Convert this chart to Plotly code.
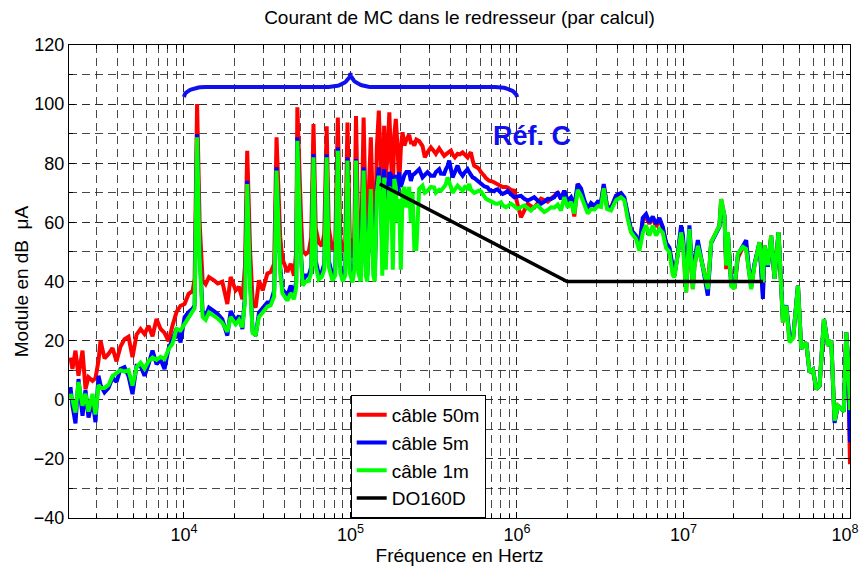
import numpy as np
import plotly.graph_objects as go

# ---------------- data ----------------
# low-frequency part
freq_a = [2084, 2142, 2233, 2328, 2461, 2565, 2674, 2826, 2945, 3070, 3157, 3337, 3526, 3727,
          3939, 4163, 4399, 4650, 4914, 5194, 5489, 5801, 6131, 6480, 6848, 7238, 7649, 8084,
          8544, 9035, 9548, 10090, 10670, 11270]
red_a = [14.3, 10.4, 16.6, 8.1, 16.6, 3.6, 7.6, 6.4, 7.3, 13.2, 20, 14, 15.5, 17.5,
         13, 18, 20.5, 21.3, 14.4, 22, 23.9, 22.2, 25, 21.5, 27.3, 24, 22.6, 19.8,
         25.1, 29.7, 31.8, 32.4, 35.8, 36.7]
blue_a = [4.3, -2, -8, 7, -5.4, 3.3, -6, 0, -7.6, 8.1, 5, 2.5, 4, 7.5,
          6, 10.4, 11, 8, 1.9, 11.5, 11.5, 8.1, 12, 16.6, 12, 13.6, 10.4, 17.2,
          20.5, 24, 19.4, 27.9, 29.6, 30.8]
green_a = [2, 0, -4.3, 6, -2, 2, -4, 2, -5, 5, 4, 4, 5, 8,
           9, 10, 9.5, 10, 4.8, 11, 12.5, 10.5, 13, 14.3, 13.5, 14.5, 13.8, 17,
           19, 24, 23.5, 25.5, 27.8, 30]

# harmonic part
freq_b = [11600, 12000, 12430, 12950, 13510, 14140, 15150, 15950, 17010, 18230,
          19090, 20460, 21410, 22440, 23260, 24000, 25000, 25880, 26980, 28240,
          29730, 31720, 33210, 34850, 36000, 37870, 39040, 41830, 43790, 45840,
          47260, 48000, 50650, 51700, 53890, 56180, 58170, 60000, 61900, 64520,
          67270, 69620, 72000, 74120, 78020, 81070, 84000, 86890, 89950, 93110,
          96000, 99100, 102900, 105500, 108000, 111500, 115400, 120000]
red_b = [41, 100, 60, 40.5, 39.1, 41.5, 40.4, 39.3, 39.9, 32.4,
         41.5, 37, 38.2, 34, 45, 84.2, 50, 33, 31.2, 40.4,
         37, 42.7, 43.2, 46, 88.8, 55, 47.6, 43.2, 46, 42,
         50, 98.9, 60, 50.4, 49.3, 50, 55, 93.3, 58, 53.2,
         52, 56, 92.5, 58, 50.6, 53, 95.5, 55, 50, 52,
         93.8, 55, 48, 55, 96, 55, 44, 95.5]
blue_b = [32, 89.9, 50, 30, 28.4, 31.2, 30, 29, 27.2, 21.7,
          30, 26.7, 28.4, 23.9, 35, 74.1, 40, 23, 21.7, 29.5,
          31, 32.9, 33, 37, 78.6, 45, 37.4, 35.2, 38.6, 36,
          40, 88.8, 48, 40, 42, 42, 45, 83.1, 47, 42.5,
          43, 46, 83, 47, 42, 44, 85.4, 45, 42, 44,
          82, 46, 42, 46, 81.4, 45, 42, 78.6]
green_b = [31, 88.8, 48, 28, 27, 29.5, 28.5, 27.5, 26, 23,
           28, 25.5, 27, 24.5, 33, 73, 38, 22.5, 22, 28,
           29.5, 31.5, 32, 35, 77.5, 43, 36, 33.5, 36, 34,
           38, 87.6, 46, 38.6, 40, 40.2, 43, 82, 45, 40.7,
           41.5, 44, 82, 45, 40.3, 42, 84.2, 43, 40, 42,
           80.9, 43, 39.7, 44, 80.9, 43, 40, 77.5]

# high-frequency part
freq_c = [123700, 126300, 128900, 132600, 137200, 140100, 144000, 148100, 152200, 155400,
          159400, 163100, 167000, 171200, 176000, 179700, 183400, 187300, 192000, 196100,
          200800, 205600, 210800, 216700, 225200, 230600, 236100, 242000, 248900, 258700,
          271000, 279900, 290500, 304100, 318400, 325900, 341200, 349300, 365600, 374400,
          383100, 391700, 401200, 410600, 423900, 440000, 454300, 471600, 486800, 505300,
          516700, 529000, 541500, 553600, 580300, 593300, 607400, 621800, 635700, 650800,
          666400, 681300, 714100, 730200, 747500, 765600, 801500, 820500, 859000, 879400,
          920500, 963400, 1009700, 1057000, 1106400, 1159600, 1213600, 1270600, 1331700, 1394400,
          1459400, 1529600, 1601300, 1675700, 1756300, 1838600, 1924500, 2017400, 2111400, 2210100,
          2316600, 2424700, 2538700, 2661000, 2785400, 2915400, 3055800, 3198400, 3320500, 3475400,
          3672800, 3935700, 4218500, 4415800, 4628300, 4844600, 5191100, 5434400, 5695500, 5961400,
          6240300, 6540400, 6846800, 7167200, 7511800, 7862300, 8230900, 8626800, 8820000, 9245700,
          9678400, 9908100, 10371000, 10857000, 11381000, 11636000, 12196000, 12765000, 13363000, 14006000,
          14660000, 15709000, 16443000, 16834000, 17624000, 18042000, 18470000, 19332000, 20238000, 21207000,
          22735000, 23796000, 24634000, 25502000, 26693000, 28612000, 29987000, 30658000, 32134000, 33635000,
          35206000, 37213000, 39552000, 41403000, 43330000, 45607000, 48689000, 50960000, 54605000, 57148000,
          59918000, 62714000, 65650000, 69770000, 73750000, 77190000, 80790000, 84690000, 88640000, 91770000,
          94990000, 97250000, 100000000]
red_c = [60, 45, 70, 88.8, 60, 45, 85, 97.8, 80, 60,
         92.7, 75, 82.5, 97.2, 79, 70, 89.5, 95, 85, 72.4,
         85, 90.5, 86, 88, 89.6, 87, 87, 86, 88, 87.5,
         85.8, 82, 83.7, 85.4, 84, 83.2, 85, 84.3, 82.5, 83,
         83.5, 84, 84.3, 83, 82, 83.2, 83, 83.7, 83, 82,
         83, 83.7, 81, 79.2, 78.5, 78, 77, 76.5, 75.8, 75,
         74.5, 74.1, 73.8, 73.5, 73, 72.7, 72.4, 72, 72, 71.8,
         71, 70.7, 66, 61.7, 64, 66.3, 65.5, 65, 66.5, 68,
         67.5, 67, 68, 69.2, 70, 68, 70.7, 66.2, 68.5, 62,
         73, 70.7, 66.8, 64.5, 66, 65.6, 66.5, 66.8, 72.4, 65.5,
         65, 69, 69.6, 67.9, 62.2, 57, 55, 51.5, 60.5, 62,
         59.5, 61.5, 58.5, 61, 58, 53, 51, 43, 42, 49,
         57, 55, 36.3, 56, 37.4, 45, 52, 47.6, 43.1, 37,
         53.3, 56.6, 58.9, 67.9, 62.3, 44.2, 56.7, 39, 37.6, 48,
         51.5, 51, 43.6, 38, 45.5, 53.3, 36, 52.2, 45.5, 55.6,
         40.9, 56.7, 26.2, 31.8, 20, 21, 38.6, 17.2, 19.4, 9.3,
         10.2, 3.6, 4.7, 27.3, 18.3, 20, -7.1, -2, -3, -4,
         22.8, 13.8, -21.8]
blue_c = [45, 42, 55, 69, 45, 42, 72, 78.6, 70, 50,
          78, 65, 61, 77, 75.8, 62, 74, 76, 70, 77,
          72, 74.7, 76, 77, 77, 74, 76, 76.4, 77, 78,
          75.2, 76, 77, 75.8, 75.8, 77, 78, 76.5, 76.4, 78,
          79, 80.9, 77, 75.2, 77, 79.2, 77, 75.8, 77, 78,
          77, 76, 75.2, 75, 74.1, 73.5, 73, 72.4, 72.2, 72,
          71.8, 71, 70.7, 70.5, 71, 71.2, 70, 69.6, 70.2, 70.7,
          69.5, 68.5, 68.8, 69, 68, 67.4, 67.9, 68.5, 67.4, 66.3,
          67, 68, 67.9, 68.5, 70.2, 67.9, 70.7, 67.3, 68.5, 65.6,
          73, 71.5, 67.5, 64.5, 66.5, 65.6, 67, 66.8, 73, 65.3,
          64.8, 69, 69.9, 68.5, 62.8, 57.5, 55.5, 51.5, 61.5, 62.8,
          60, 62, 59.5, 61.5, 58.5, 53, 51.5, 43.5, 42, 49.5,
          59, 56, 40, 59, 40, 47, 54, 48, 42, 35.2,
          53, 56.6, 58.5, 66, 62, 47, 56, 40, 38, 49,
          52, 54, 45, 39, 46, 53, 34.1, 52, 45, 55,
          41, 56.5, 27, 32, 21.7, 21.5, 38.6, 17.2, 19.4, 9.3,
          10.2, 3.6, 4.7, 27.3, 18.3, 20, -7.8, -2, -3, -4,
          22.8, 13.8, -14.4]
green_c = [42, 40, 55, 71.3, 42, 40, 70, 75.8, 66, 42,
           75.2, 44, 60, 72, 70, 44, 74.7, 72, 60, 67.9,
           44, 70, 72, 65, 72, 60, 70, 51, 51, 71.3,
           72.4, 70, 70.7, 72, 71.8, 70, 71, 70.7, 72, 73,
           75.2, 73, 72, 70, 71, 72.4, 71.5, 70.7, 72, 71.5,
           73, 71, 70.5, 70, 70.5, 70.7, 70.5, 69.5, 68.8, 68,
           67.7, 67.4, 66.8, 66.5, 66.3, 66.3, 66.8, 65.8, 65.1, 65.5,
           66.3, 65.5, 64.6, 65.2, 65.7, 64.8, 64, 65.2, 65.7, 64.5,
           63.5, 64.2, 65.1, 65, 66, 64, 68.5, 65, 67, 63,
           71, 69, 65.5, 63, 64.5, 64.3, 65.5, 65.2, 71.5, 64.5,
           64, 67.5, 68.5, 67.5, 61.1, 56.6, 54.3, 50.4, 56.4, 59,
           55.5, 58.9, 55.5, 57.7, 56.5, 51.3, 50, 42.2, 41.4, 48.7,
           56.6, 53.3, 36.3, 57.7, 37.4, 45, 52.1, 47.6, 43.1, 37.4,
           53.3, 56.6, 58.9, 67.9, 62.3, 45.4, 56.7, 38.5, 37.6, 49.4,
           51.7, 51, 43.6, 37.4, 45.4, 53.3, 39.7, 52.2, 45.5, 55.6,
           40.9, 56.7, 26.2, 31.8, 19.4, 21, 38.6, 17.2, 19.4, 9.3,
           10.2, 3.6, 4.7, 27.3, 18.3, 20, -7.1, -2, -3, -4,
           22.8, 13.8, -3.5]

# DO160D limit
do160_freq = [150e3, 2e6, 30e6]
do160_level = [73, 40, 40]

# axis ticks
y_ticks = [-40, -20, 0, 20, 40, 60, 80, 100, 120]
x_ticks = [1e4, 1e5, 1e6, 1e7, 1e8]
x_tick_text = ["10<sup>4</sup>", "10<sup>5</sup>", "10<sup>6</sup>", "10<sup>7</sup>",
               "10<sup>8</sup>&nbsp;&nbsp;"]

freq = freq_a + freq_b + freq_c
red = red_a + red_b + red_c
blue = blue_a + blue_b + blue_c
green = green_a + green_b + green_c

# ---------------- figure ----------------
FONT = "Liberation Sans, Arial, Helvetica, sans-serif"
fig = go.Figure()

fig.add_trace(go.Scatter(x=freq, y=red, mode="lines", name="câble 50m",
                         line=dict(color="#ff0000", width=4)))
fig.add_trace(go.Scatter(x=freq, y=blue, mode="lines", name="câble 5m",
                         line=dict(color="#0000ff", width=4)))
fig.add_trace(go.Scatter(x=freq, y=green, mode="lines", name="câble 1m",
                         line=dict(color="#00ff00", width=4)))
fig.add_trace(go.Scatter(x=do160_freq, y=do160_level, mode="lines", name="DO160D",
                         line=dict(color="#000000", width=3.5)))

# curly brace (decoration) spanning 1e4 .. 1e6, tip at 1e5
L, M, w = 4.0, 5.0, 0.13
y_end, y_flat, y_tip = 102.4, 105.8, 110.5
t = np.linspace(0, np.pi / 2, 20)
seg1_x = L + w - w * np.cos(t); seg1_y = y_end + (y_flat - y_end) * np.sin(t)
seg2_x = M - w + w * np.sin(t); seg2_y = y_flat + (y_tip - y_flat) * (1 - np.cos(t))
bx_left = np.concatenate([seg1_x, seg2_x])
by_left = np.concatenate([seg1_y, seg2_y])
bx = np.concatenate([bx_left, (M + (M - bx_left))[::-1]])
by = np.concatenate([by_left, by_left[::-1]])
fig.add_trace(go.Scatter(x=10 ** bx, y=by, mode="lines", showlegend=False, hoverinfo="skip",
                         line=dict(color="#1010ee", width=4)))

GRID = "rgba(40,40,40,0.85)"
fig.update_layout(
    width=864, height=576,
    margin=dict(l=69, r=14, t=45, b=58, autoexpand=False),
    paper_bgcolor="white", plot_bgcolor="white",
    font=dict(family=FONT, color="black", size=18),
    title=dict(text="Courant de MC dans le redresseur (par calcul)", x=0.5, xref="paper",
               y=1 - 17 / 576, yref="container", yanchor="middle", xanchor="center",
               font=dict(size=19, family=FONT, color="black")),
    xaxis=dict(type="log", range=[3.31, 8], tickmode="array", tickvals=x_ticks, ticktext=x_tick_text,
               minor=dict(dtick="D1", showgrid=True, gridcolor=GRID, griddash="8px,5px",
                          ticks="inside", ticklen=4, tickcolor="black"),
               showgrid=True, gridcolor=GRID, griddash="8px,5px", gridwidth=1,
               showline=True, linecolor="black", linewidth=1.2, mirror="allticks",
               ticks="inside", ticklen=6, tickcolor="black", zeroline=False, automargin=False,
               ticklabeloverflow="allow",
               tickfont=dict(size=18, family=FONT),
               title=dict(text="Fréquence en Hertz", font=dict(size=19, family=FONT), standoff=2)),
    yaxis=dict(range=[-40, 120], tickmode="array", tickvals=y_ticks,
               showgrid=True, gridcolor=GRID, griddash="8px,5px", gridwidth=1,
               minor=dict(dtick=10, tick0=0, showgrid=True, gridcolor=GRID, griddash="8px,5px",
                          ticks="inside", ticklen=4, tickcolor="black"),
               showline=True, linecolor="black", linewidth=1.2, mirror="allticks",
               ticks="inside", ticklen=6, tickcolor="black", zeroline=False, automargin=False,
               ticklabeloverflow="allow",
               tickfont=dict(size=18, family=FONT),
               title=dict(text="Module en dB  μA", font=dict(size=19, family=FONT), standoff=0)),
    legend=dict(x=0.3607, y=0, xanchor="left", yanchor="bottom", bgcolor="white",
                bordercolor="black", borderwidth=1, font=dict(size=19, family=FONT),
                itemwidth=30, traceorder="normal"),
    annotations=[dict(x=np.log10(1.23e6), y=89.2, xref="x", yref="y", text="<b>Réf. C</b>",
                      showarrow=False, font=dict(size=27, color="#1010ee", family=FONT))],
    showlegend=True,
)

fig.write_html("out.html", config={"displayModeBar": False},
               post_script="document.body.style.margin='0';document.body.style.padding='0';")
